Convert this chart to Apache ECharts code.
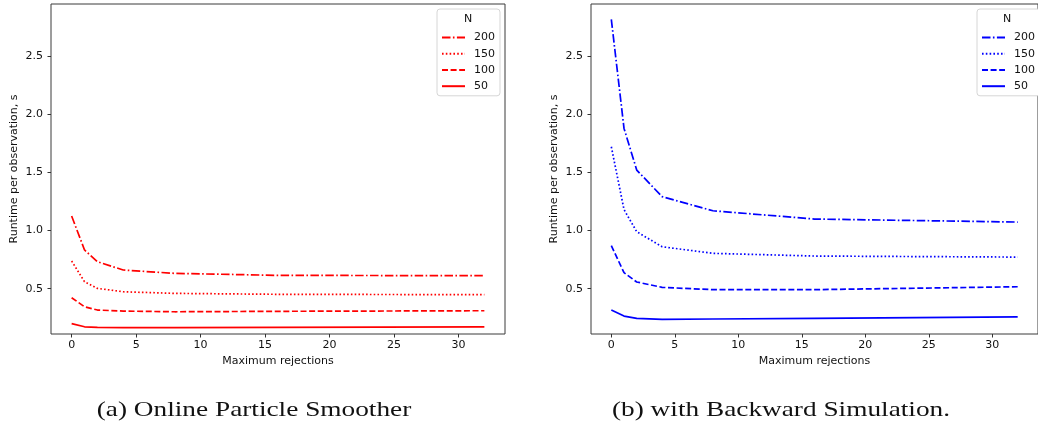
<!DOCTYPE html>
<html>
<head>
<meta charset="utf-8">
<script src="https://cdn.jsdelivr.net/npm/echarts@6/dist/echarts.min.js"></script>
<style>
html,body{margin:0;padding:0;background:#fff;}
#chart{width:1038px;height:426px;}
</style>
</head>
<body>
<div id="chart"></div>
<script>
// ---- data ----
const maxRejections = [0, 1, 2, 4, 8, 16, 32];
const nLabels = ['200', '150', '100', '50'];
// (a) Online Particle Smoother
const onlineN200 = [1.125, 0.833, 0.732, 0.661, 0.632, 0.615, 0.612];
const onlineN150 = [0.738, 0.560, 0.503, 0.474, 0.460, 0.452, 0.449];
const onlineN100 = [0.423, 0.345, 0.317, 0.308, 0.302, 0.306, 0.311];
const onlineN50  = [0.200, 0.173, 0.168, 0.165, 0.165, 0.168, 0.173];
// (b) with Backward Simulation
const backN200 = [2.815, 1.878, 1.520, 1.291, 1.170, 1.099, 1.073];
const backN150 = [1.720, 1.180, 0.990, 0.861, 0.804, 0.781, 0.772];
const backN100 = [0.870, 0.638, 0.558, 0.512, 0.492, 0.492, 0.517];
const backN50  = [0.317, 0.265, 0.245, 0.237, 0.240, 0.245, 0.259];
// ticks
const xTicks = [0, 5, 10, 15, 20, 25, 30];
const yTicks = [0.5, 1.0, 1.5, 2.0, 2.5];
const captions = ['(a) Online Particle Smoother', '(b) with Backward Simulation.'];

// ---- styles ----
const FONT = 'DejaVu Sans';
const dashStyles = {
  '200': [8.5, 2.4, 1.6, 2.4],
  '150': [1.6, 2.2],
  '100': [6, 2.6],
  '50': 'solid'
};

const pair = (vals) => maxRejections.map((x, i) => [x, vals[i]]);

function makeSeries(prefix, color, dataSets, gridIndex) {
  return nLabels.map((n, i) => ({
    name: prefix + n,
    type: 'line',
    xAxisIndex: gridIndex,
    yAxisIndex: gridIndex,
    data: pair(dataSets[i]),
    symbol: 'none',
    smooth: false,
    lineStyle: { color: color, width: 1.7, type: dashStyles[n] },
    itemStyle: { color: color },
    emphasis: { disabled: true },
    z: 3
  }));
}

function xAxis(gi) {
  return {
    type: 'value', gridIndex: gi, min: -1.6, max: 33.6,
    name: 'Maximum rejections', nameLocation: 'middle', nameGap: 22,
    nameTextStyle: { fontFamily: FONT, fontSize: 11, color: '#111' },
    axisLine: { show: false, onZero: false },
    axisTick: { show: true, inside: false, length: 3.5, customValues: xTicks, lineStyle: { color: '#333' } },
    axisLabel: { customValues: xTicks, fontFamily: FONT, fontSize: 11, color: '#111', margin: 6 },
    splitLine: { show: false }
  };
}
function yAxis(gi) {
  return {
    type: 'value', gridIndex: gi, min: 0.111, max: 2.947,
    name: 'Runtime per observation, s', nameLocation: 'middle', nameGap: 31,
    nameTextStyle: { fontFamily: FONT, fontSize: 11, color: '#111' },
    axisLine: { show: false, onZero: false },
    axisTick: { show: true, inside: false, length: 3.5, customValues: yTicks, lineStyle: { color: '#333' } },
    axisLabel: { customValues: yTicks, fontFamily: FONT, fontSize: 11, color: '#111', margin: 8,
      formatter: v => v.toFixed(1) },
    splitLine: { show: false }
  };
}
function legend(prefix, left) {
  return {
    left: left, top: 9, orient: 'vertical',
    data: nLabels.map(n => prefix + n),
    formatter: name => name.slice(1),
    itemWidth: 23, itemHeight: 14, itemGap: 5,
    padding: [23, 5, 4, 4],
    backgroundColor: '#fff', borderColor: '#d6d6d6', borderWidth: 1, borderRadius: 3,
    itemStyle: { opacity: 0 },
    textStyle: { fontFamily: FONT, fontSize: 11, color: '#111', padding: [0, 0, 0, 4] },
    selectedMode: false
  };
}

const chart = echarts.init(document.getElementById('chart'), null, { renderer: 'canvas' });
chart.setOption({
  animation: false,
  backgroundColor: '#fff',
  grid: [
    { left: 51, top: 4, width: 454, height: 330, show: true, borderColor: '#3a3a3a', borderWidth: 1, backgroundColor: 'transparent', containLabel: false },
    { left: 591, top: 4, width: 454, height: 330, show: true, borderColor: '#3a3a3a', borderWidth: 1, backgroundColor: 'transparent', containLabel: false }
  ],
  xAxis: [xAxis(0), xAxis(1)],
  yAxis: [yAxis(0), yAxis(1)],
  legend: [legend('L', 437), legend('R', 977)],
  series: [].concat(
    makeSeries('L', '#ff0000', [onlineN200, onlineN150, onlineN100, onlineN50], 0),
    makeSeries('R', '#0000ff', [backN200, backN150, backN100, backN50], 1)
  ),
  graphic: [
    { type: 'text', x: 468, y: 19, z: 100, style: { text: 'N', font: '11px "DejaVu Sans"', fill: '#111', textAlign: 'center', textVerticalAlign: 'middle' } },
    { type: 'text', x: 1007, y: 19, z: 100, style: { text: 'N', font: '11px "DejaVu Sans"', fill: '#111', textAlign: 'center', textVerticalAlign: 'middle' } },
    { type: 'text', x: 254, y: 410, scaleX: 1.3, z: 100, style: { text: captions[0], font: '21px "Liberation Serif"', fill: '#111', textAlign: 'center', textVerticalAlign: 'middle' } },
    { type: 'text', x: 781, y: 410, scaleX: 1.3, z: 100, style: { text: captions[1], font: '21px "Liberation Serif"', fill: '#111', textAlign: 'center', textVerticalAlign: 'middle' } }
  ]
});
</script>
</body>
</html>
